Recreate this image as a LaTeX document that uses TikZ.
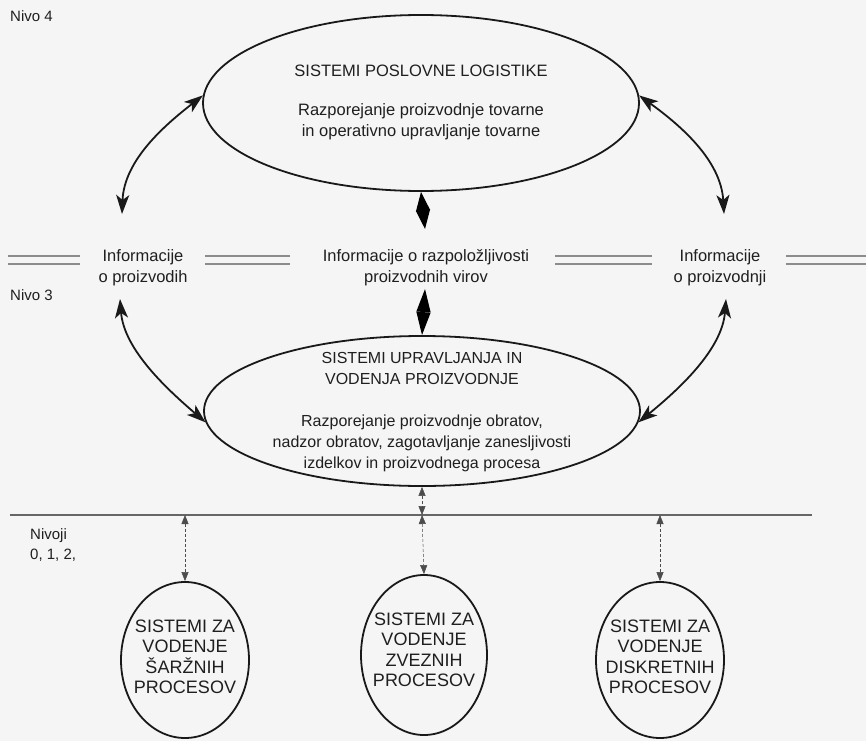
\documentclass[tikz,border=0pt]{standalone}
\usepackage{fontspec}
\setmainfont{Liberation Sans}
\usetikzlibrary{shapes.geometric,arrows.meta}
\begin{document}
\begin{tikzpicture}[x=1pt,y=-1pt,
  txt/.style={font=\fontsize{16.5}{21}\selectfont, text=black!88, align=center, inner sep=0pt},
  midtxt/.style={txt, font=\fontsize{16}{21}\selectfont},
  smalltxt/.style={font=\fontsize{18}{20.5}\selectfont, text=black!88, align=center, inner sep=0pt},
  lvl/.style={font=\fontsize{15}{20}\selectfont, text=black!88, align=left, anchor=north west, inner sep=0pt},
  ell/.style={ellipse, draw=black!90, line width=1.8pt, inner sep=0pt},
  bigarrow/.style={line width=1.8pt, draw=black!90, {Stealth[length=19pt,width=13pt,inset=5pt]}-{Stealth[length=19pt,width=13pt,inset=5pt]}},
  diamarrow/.style={line width=1.2pt, {Triangle[length=#1,width=14pt]}-{Triangle[length=#1,width=14pt]}},
  smallarrow/.style={line width=0.5pt, draw=black!70, densely dashed, {Triangle[length=9pt,width=7pt]}-{Triangle[length=9pt,width=7pt]}},
  dline/.style={draw=black!45, line width=1.2pt},
  levelline/.style={draw=black!60, line width=1.4pt}
]
\useasboundingbox[fill=black!4] (0,0) rectangle (866,741);

% Level labels
\node[lvl] (n4) at (10,10) {Nivo 4};
\node[lvl] (n3) at (10,289) {Nivo 3};
\node[lvl] (n012) at (30,528) {Nivoji\\0, 1, 2,};

% Top ellipse
\node[ell, minimum width=436pt, minimum height=176pt] (L4) at (421,103) {};
\node[txt] (L4t) at (421,102)
  {SISTEMI POSLOVNE LOGISTIKE\\[18pt]Razporejanje proizvodnje tovarne\\in operativno upravljanje tovarne};

% Information labels
\node[txt] (infoL) at (143,268) {Informacije\\o proizvodih};
\node[txt] (infoM) at (426,268) {Informacije o razpoložljivosti\\proizvodnih virov};
\node[txt] (infoR) at (720,268) {Informacije\\o proizvodnji};

% Double separator lines
\foreach \a/\b in {8/80, 205/290, 555/652, 786/866}{
  \draw[dline] (\a,256) -- (\b,256);
  \draw[dline] (\a,264) -- (\b,264);
}

% Second ellipse
\node[ell, minimum width=436pt, minimum height=150pt] (L3) at (422,411) {};
\node[midtxt] (L3t) at (422,412)
  {SISTEMI UPRAVLJANJA IN\\VODENJA PROIZVODNJE\\[21pt]Razporejanje proizvodnje obratov,\\nadzor obratov, zagotavljanje zanesljivosti\\izdelkov in proizvodnega procesa};

% Level line
\coordinate (lineL) at (10,515);
\coordinate (lineR) at (812,515);
\draw[levelline] (lineL) -- (lineR);

% Small ellipses
\node[ell, minimum width=128pt, minimum height=156pt] (S1) at (185,660) {};
\node[smalltxt] (S1t) at (185,657) {SISTEMI ZA\\VODENJE\\ŠARŽNIH\\PROCESOV};
\node[ell, minimum width=126pt, minimum height=160pt] (S2) at (424,655) {};
\node[smalltxt] (S2t) at (424,650) {SISTEMI ZA\\VODENJE\\ZVEZNIH\\PROCESOV};
\node[ell, minimum width=128pt, minimum height=156pt] (S3) at (660,660) {};
\node[smalltxt] (S3t) at (660,657) {SISTEMI ZA\\VODENJE\\DISKRETNIH\\PROCESOV};

% Coordinates for free ends
\coordinate (aTL) at (122,214);
\coordinate (aTR) at (724,214);
\coordinate (aBL) at (120,299);
\coordinate (aBR) at (726,299);
\coordinate (mTop) at (425,229);
\coordinate (mBot) at (425,289);
\coordinate (c1) at (185,515);
\coordinate (c2) at (422,515);
\coordinate (c3) at (660,515);

% Curved arrows
\draw[bigarrow] (L4.178) .. controls (165,125) and (124,160) .. (aTL);
\draw[bigarrow] (L4.2) .. controls (680,125) and (721,160) .. (aTR);
\draw[bigarrow] (aBL) .. controls (124,350) and (168,390) .. (L3.183);
\draw[bigarrow] (aBR) .. controls (722,350) and (678,390) .. (L3.357);

% Diamond arrows
\draw[diamarrow=19pt] (L4.south) -- (mTop);
\draw[diamarrow=23pt] (mBot) -- (L3.north);

% Small arrows
\draw[smallarrow] (L3.south) -- (c2);
\draw[smallarrow] (c2) -- (S2.north);
\draw[smallarrow] (c1) -- (S1.north);
\draw[smallarrow] (c3) -- (S3.north);
\end{tikzpicture}
\end{document}
